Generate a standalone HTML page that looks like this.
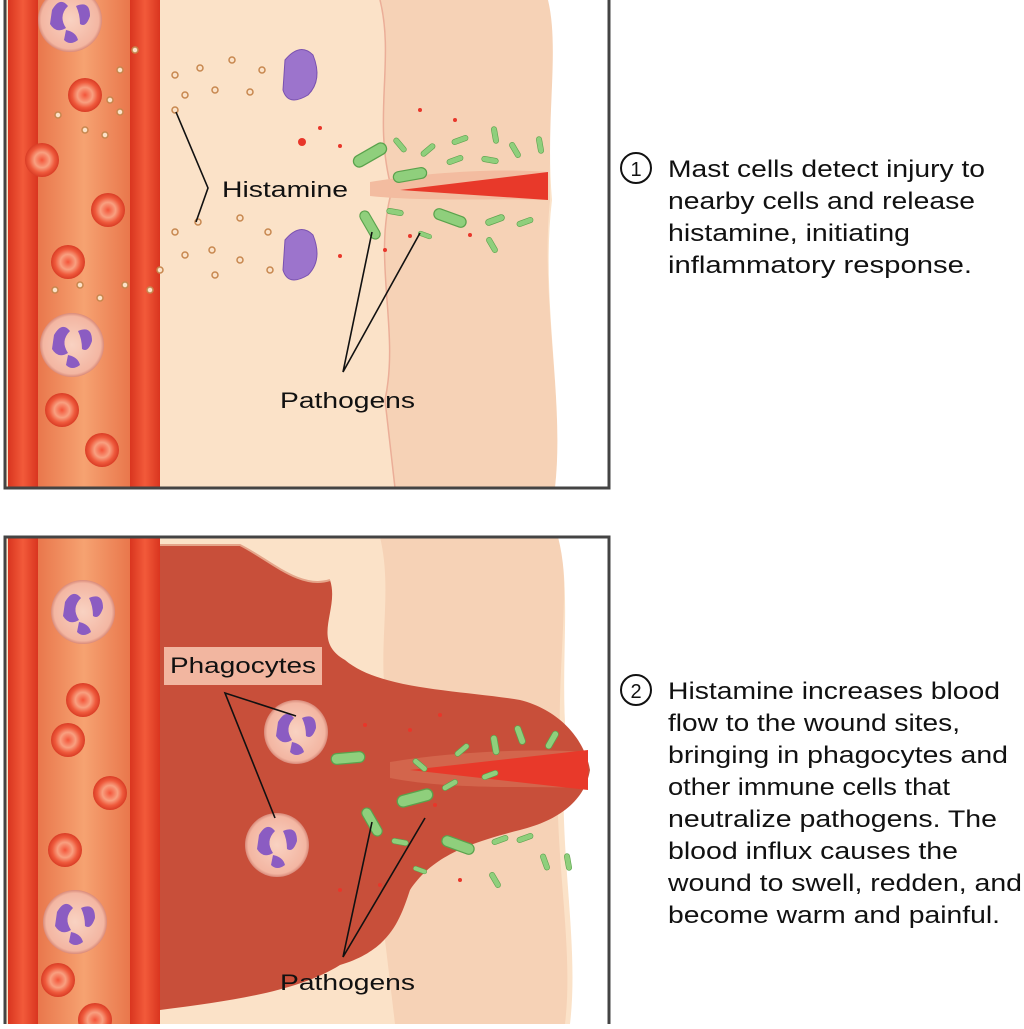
<!DOCTYPE html>
<html><head><meta charset="utf-8"><style>
body{margin:0;background:#fff;}
svg text{font-family:"Liberation Sans",sans-serif;}
</style></head><body>
<svg width="1024" height="1024" viewBox="0 0 1024 1024" xmlns="http://www.w3.org/2000/svg">
<defs>
<linearGradient id="lum" x1="0" x2="1"><stop offset="0" stop-color="#e9774c"/><stop offset="0.5" stop-color="#f6a271"/><stop offset="1" stop-color="#e9774c"/></linearGradient>
<linearGradient id="wall" x1="0" x2="1"><stop offset="0" stop-color="#d9351f"/><stop offset="0.5" stop-color="#f25a3a"/><stop offset="1" stop-color="#d9351f"/></linearGradient>
<radialGradient id="rbc"><stop offset="0" stop-color="#f4553a"/><stop offset="0.45" stop-color="#f8a080"/><stop offset="0.75" stop-color="#ef5a3c"/><stop offset="1" stop-color="#d93c25"/></radialGradient>
<radialGradient id="wbc"><stop offset="0" stop-color="#f9d2c2"/><stop offset="0.9" stop-color="#f3b6a2"/><stop offset="1" stop-color="#d98a7a"/></radialGradient>
<g id="R"><circle r="17" fill="url(#rbc)"/></g>
<g id="W"><circle r="32" fill="url(#wbc)"/><path d="M-18,-10 q8,-14 16,-4 q-10,10 -2,22 q-10,6 -16,-4z" fill="#8b5cc2"/><path d="M6,-14 q14,-6 14,10 q-4,12 -10,8 q0,-10 -4,-18z" fill="#8b5cc2"/><path d="M-4,10 q10,2 12,10 q-8,6 -14,0z" fill="#8b5cc2"/></g>
<g id="B"><rect x="-14" y="-4.5" width="28" height="9" rx="4.5" fill="#8fcf7c" stroke="#5aa24c" stroke-width="1"/></g>
</defs>
<rect width="1024" height="1024" fill="#fff"/>

<!-- TOP PANEL -->
<rect x="5" y="-5" width="604" height="493" fill="#fbe2c8"/>
<path d="M380,0 C395,60 372,120 392,190 C372,260 400,330 385,400 L395,488 L555,488 C565,400 540,300 550,200 C548,120 560,50 555,0Z" fill="#f6d2b6"/>
<path d="M380,0 C395,60 372,120 392,190 C372,260 400,330 385,400 L395,488" fill="none" stroke="#ebae98" stroke-width="1.5"/>
<path d="M548,0 C560,50 545,120 552,200 C540,300 565,400 555,488 L609,488 L609,0Z" fill="#fff"/>
<path d="M370,182 C430,172 500,168 548,172 L548,200 C490,198 430,202 370,196Z" fill="#f3bca0"/>
<path d="M400,190 L548,172 L548,200 Z" fill="#e8392a"/>
<rect x="8" y="-5" width="30" height="493" fill="url(#wall)"/>
<rect x="38" y="-5" width="92" height="493" fill="url(#lum)"/>
<rect x="130" y="-5" width="30" height="493" fill="url(#wall)"/>
<use href="#W" x="70" y="20"/>
<use href="#R" x="85" y="95"/><use href="#R" x="42" y="160"/><use href="#R" x="108" y="210"/><use href="#R" x="68" y="262"/>
<use href="#W" x="72" y="345"/>
<use href="#R" x="62" y="410"/><use href="#R" x="102" y="450"/>
<g fill="#fbe2c8" stroke="#c7874f" stroke-width="1.5">
<circle cx="175" cy="75" r="3"/><circle cx="200" cy="68" r="3"/><circle cx="232" cy="60" r="3"/><circle cx="262" cy="70" r="3"/><circle cx="185" cy="95" r="3"/><circle cx="215" cy="90" r="3"/><circle cx="250" cy="92" r="3"/><circle cx="175" cy="110" r="3"/><circle cx="120" cy="70" r="3"/><circle cx="110" cy="100" r="3"/><circle cx="58" cy="115" r="3"/><circle cx="85" cy="130" r="3"/><circle cx="105" cy="135" r="3"/><circle cx="120" cy="112" r="3"/><circle cx="135" cy="50" r="3"/>
<circle cx="175" cy="232" r="3"/><circle cx="198" cy="222" r="3"/><circle cx="240" cy="218" r="3"/><circle cx="268" cy="232" r="3"/><circle cx="185" cy="255" r="3"/><circle cx="212" cy="250" r="3"/><circle cx="240" cy="260" r="3"/><circle cx="160" cy="270" r="3"/><circle cx="150" cy="290" r="3"/><circle cx="55" cy="290" r="3"/><circle cx="80" cy="285" r="3"/><circle cx="100" cy="298" r="3"/><circle cx="125" cy="285" r="3"/><circle cx="215" cy="275" r="3"/><circle cx="270" cy="270" r="3"/>
</g>
<path d="M285,60 q15,-18 28,-5 q10,25 -5,40 q-20,12 -25,-5z" fill="#9c74cc" stroke="#7a52b0"/>
<path d="M285,240 q15,-18 28,-5 q10,25 -5,40 q-20,12 -25,-5z" fill="#9c74cc" stroke="#7a52b0"/>
<g fill="#e8362a"><circle cx="302" cy="142" r="4"/><circle cx="320" cy="128" r="2"/><circle cx="340" cy="146" r="2"/><circle cx="340" cy="256" r="2"/><circle cx="420" cy="110" r="2"/><circle cx="455" cy="120" r="2"/><circle cx="410" cy="236" r="2"/><circle cx="470" cy="235" r="2"/><circle cx="385" cy="250" r="2"/></g>
<use href="#B" transform="translate(370,155) rotate(-30) scale(1.3)"/>
<use href="#B" transform="translate(410,175) rotate(-10) scale(1.2)"/>
<use href="#B" transform="translate(400,145) rotate(50) scale(0.6)"/>
<use href="#B" transform="translate(428,150) rotate(-40) scale(0.6)"/>
<use href="#B" transform="translate(460,140) rotate(-20) scale(0.6)"/>
<use href="#B" transform="translate(495,135) rotate(80) scale(0.6)"/>
<use href="#B" transform="translate(515,150) rotate(60) scale(0.6)"/>
<use href="#B" transform="translate(540,145) rotate(80) scale(0.6)"/>
<use href="#B" transform="translate(455,160) rotate(-20) scale(0.6)"/>
<use href="#B" transform="translate(490,160) rotate(10) scale(0.6)"/>
<use href="#B" transform="translate(370,225) rotate(60) scale(1.1)"/>
<use href="#B" transform="translate(395,212) rotate(10) scale(0.6)"/>
<use href="#B" transform="translate(450,218) rotate(20) scale(1.2)"/>
<use href="#B" transform="translate(495,220) rotate(-20) scale(0.7)"/>
<use href="#B" transform="translate(525,222) rotate(-20) scale(0.6)"/>
<use href="#B" transform="translate(492,245) rotate(60) scale(0.6)"/>
<use href="#B" transform="translate(425,235) rotate(20) scale(0.5)"/>
<g stroke="#111" stroke-width="1.6" fill="none">
<polyline points="176,112 208,188 196,222"/>
<polyline points="372,232 343,372 420,233"/>
</g>
<text x="222" y="197" font-size="22" fill="#111" textLength="126" lengthAdjust="spacingAndGlyphs">Histamine</text>
<text x="280" y="408" font-size="22" fill="#111" textLength="135" lengthAdjust="spacingAndGlyphs">Pathogens</text>
<rect x="5" y="-5" width="604" height="493" fill="none" stroke="#444" stroke-width="3"/>

<!-- BOTTOM PANEL -->
<rect x="5" y="537" width="604" height="495" fill="#fbe2c8"/>
<path d="M380,537 C395,600 372,660 392,730 C372,800 400,870 385,940 L395,1024 L565,1024 C575,940 550,840 560,740 C558,660 570,590 560,537Z" fill="#f6d2b6"/>
<path d="M558,537 C572,590 560,660 566,740 C556,840 580,940 570,1024 L609,1024 L609,537Z" fill="#fff"/>
<path d="M160,545 L240,545 C270,560 300,590 330,580 C340,610 310,640 345,660 C380,690 460,690 520,700 C560,710 585,740 590,770 C585,800 560,820 520,830 C460,845 430,860 410,890 C400,920 390,950 340,965 C300,990 240,1000 160,1010Z" fill="#c84f3a"/>
<path d="M160,545 L240,545 C270,560 300,590 330,580" fill="none" stroke="#e5a58a" stroke-width="2"/>
<path d="M390,762 C450,752 530,748 588,752 L588,788 C530,786 450,790 390,778Z" fill="#d3654c"/>
<path d="M410,770 L588,750 L588,790 Z" fill="#e8392a"/>
<rect x="8" y="537" width="30" height="495" fill="url(#wall)"/>
<rect x="38" y="537" width="92" height="495" fill="url(#lum)"/>
<rect x="130" y="537" width="30" height="495" fill="url(#wall)"/>
<use href="#W" x="83" y="612"/>
<use href="#R" x="83" y="700"/><use href="#R" x="68" y="740"/><use href="#R" x="110" y="793"/><use href="#R" x="65" y="850"/>
<use href="#W" x="75" y="922"/>
<use href="#R" x="58" y="980"/><use href="#R" x="95" y="1020"/>
<use href="#W" x="296" y="732"/>
<use href="#W" x="277" y="845"/>
<use href="#B" transform="translate(348,758) rotate(-5) scale(1.2)"/>
<use href="#B" transform="translate(415,798) rotate(-15) scale(1.3)"/>
<use href="#B" transform="translate(420,765) rotate(40) scale(0.6)"/>
<use href="#B" transform="translate(462,750) rotate(-40) scale(0.6)"/>
<use href="#B" transform="translate(495,745) rotate(80) scale(0.7)"/>
<use href="#B" transform="translate(520,735) rotate(70) scale(0.7)"/>
<use href="#B" transform="translate(552,740) rotate(-60) scale(0.7)"/>
<use href="#B" transform="translate(490,775) rotate(-20) scale(0.6)"/>
<use href="#B" transform="translate(450,785) rotate(-30) scale(0.6)"/>
<use href="#B" transform="translate(372,822) rotate(60) scale(1.1)"/>
<use href="#B" transform="translate(400,842) rotate(10) scale(0.6)"/>
<use href="#B" transform="translate(458,845) rotate(20) scale(1.2)"/>
<use href="#B" transform="translate(500,840) rotate(-20) scale(0.6)"/>
<use href="#B" transform="translate(525,838) rotate(-20) scale(0.6)"/>
<use href="#B" transform="translate(545,862) rotate(70) scale(0.6)"/>
<use href="#B" transform="translate(568,862) rotate(80) scale(0.6)"/>
<use href="#B" transform="translate(495,880) rotate(60) scale(0.6)"/>
<use href="#B" transform="translate(420,870) rotate(20) scale(0.5)"/>
<g fill="#e8362a"><circle cx="365" cy="725" r="2"/><circle cx="410" cy="730" r="2"/><circle cx="440" cy="715" r="2"/><circle cx="340" cy="890" r="2"/><circle cx="380" cy="885" r="2"/><circle cx="460" cy="880" r="2"/><circle cx="435" cy="805" r="2"/></g>
<rect x="164" y="647" width="158" height="38" fill="#f2b6a0"/>
<text x="170" y="673" font-size="22" fill="#111" textLength="146" lengthAdjust="spacingAndGlyphs">Phagocytes</text>
<g stroke="#111" stroke-width="1.6" fill="none">
<polyline points="296,716 225,693 275,818"/>
<polyline points="372,822 343,957 425,818"/>
</g>
<text x="280" y="990" font-size="22" fill="#111" textLength="135" lengthAdjust="spacingAndGlyphs">Pathogens</text>
<rect x="5" y="537" width="604" height="495" fill="none" stroke="#444" stroke-width="3"/>

<!-- TEXT -->
<g font-size="24" fill="#111">
<circle cx="636" cy="168" r="15" fill="none" stroke="#111" stroke-width="2"/>
<text x="636" y="176" font-size="20" text-anchor="middle">1</text>
<text x="668" y="177" textLength="317" lengthAdjust="spacingAndGlyphs">Mast cells detect injury to</text>
<text x="668" y="209" textLength="307" lengthAdjust="spacingAndGlyphs">nearby cells and release</text>
<text x="668" y="241" textLength="242" lengthAdjust="spacingAndGlyphs">histamine, initiating</text>
<text x="668" y="273" textLength="304" lengthAdjust="spacingAndGlyphs">inflammatory response.</text>
<circle cx="636" cy="690" r="15" fill="none" stroke="#111" stroke-width="2"/>
<text x="636" y="698" font-size="20" text-anchor="middle">2</text>
<text x="668" y="699" textLength="332" lengthAdjust="spacingAndGlyphs">Histamine increases blood</text>
<text x="668" y="731" textLength="292" lengthAdjust="spacingAndGlyphs">flow to the wound sites,</text>
<text x="668" y="763" textLength="340" lengthAdjust="spacingAndGlyphs">bringing in phagocytes and</text>
<text x="668" y="795" textLength="282" lengthAdjust="spacingAndGlyphs">other immune cells that</text>
<text x="668" y="827" textLength="329" lengthAdjust="spacingAndGlyphs">neutralize pathogens. The</text>
<text x="668" y="859" textLength="290" lengthAdjust="spacingAndGlyphs">blood influx causes the</text>
<text x="668" y="891" textLength="354" lengthAdjust="spacingAndGlyphs">wound to swell, redden, and</text>
<text x="668" y="923" textLength="332" lengthAdjust="spacingAndGlyphs">become warm and painful.</text>
</g>
</svg>
</body></html>
